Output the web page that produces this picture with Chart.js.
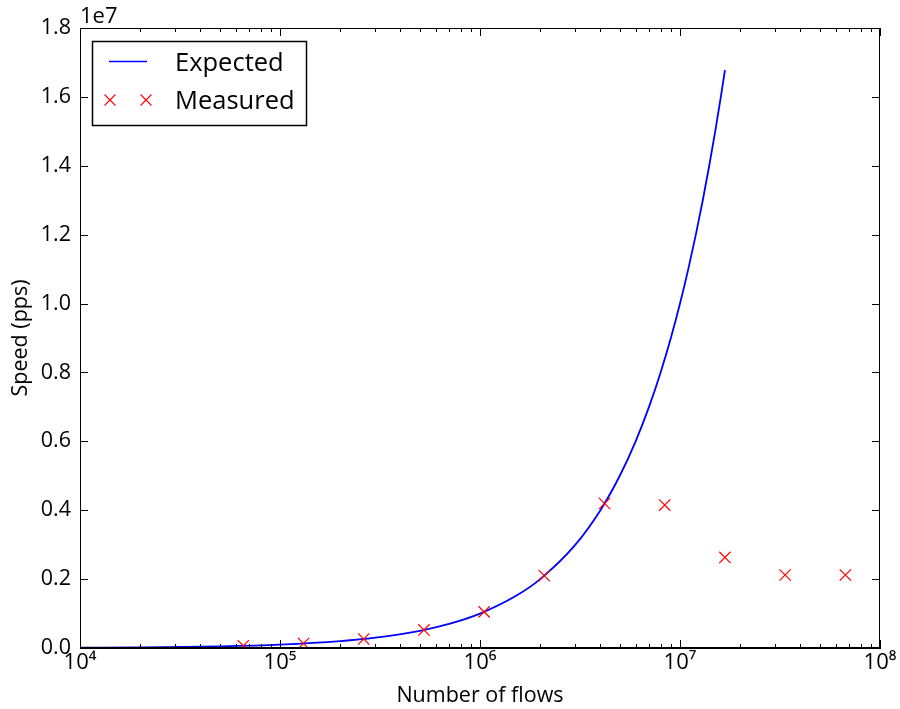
<!DOCTYPE html>
<html>
<head>
<meta charset="utf-8">
<script src="https://cdn.jsdelivr.net/npm/chart.js@4.4.1/dist/chart.umd.min.js"></script>
<style>
  html, body { margin: 0; padding: 0; background: #fff; }
  #wrap { width: 900px; height: 709px; }
</style>
</head>
<body>
<div id="wrap"><canvas id="chart" width="900" height="709"></canvas></div>
<script>
// Expected curve (speed equals number of flows)
var expectedFlows = [10000, 20000, 50000, 100000, 200000, 300000, 500000, 700000, 1000000,
  1500000, 2000000, 3000000, 4000000, 5000000, 6000000, 7000000, 8000000, 9000000,
  10000000, 11000000, 12000000, 13000000, 14000000, 15000000, 16000000, 16777216];
var expectedSpeed = [10000, 20000, 50000, 100000, 200000, 300000, 500000, 700000, 1000000,
  1500000, 2000000, 3000000, 4000000, 5000000, 6000000, 7000000, 8000000, 9000000,
  10000000, 11000000, 12000000, 13000000, 14000000, 15000000, 16000000, 16777216];

// Measured points
var measuredFlows = [65536, 131072, 262144, 524288, 1048576, 2097152, 4194304,
  8388608, 16777216, 33554432, 67108864];
var measuredSpeed = [65536, 131072, 262144, 524288, 1048576, 2097152, 4194304,
  4150000, 2630000, 2120000, 2120000];

// Tick values
var xMajorTicks = [1e4, 1e5, 1e6, 1e7, 1e8];
var yTicks = [0, 2e6, 4e6, 6e6, 8e6, 1e7, 1.2e7, 1.4e7, 1.6e7, 1.8e7];
var supDigits = { '4': '\u2074', '5': '\u2075', '6': '\u2076', '7': '\u2077', '8': '\u2078' };

var FONT = "'Open Sans', 'DejaVu Sans', sans-serif";

function toPoints(xs, ys) {
  return xs.map(function(x, i) { return { x: x, y: ys[i] }; });
}

// Frame, inward ticks, offset text and legend box (matplotlib classic look)
var frameTicks = {
  id: 'frameTicks',
  afterDraw: function(chart) {
    var ctx = chart.ctx;
    var a = chart.chartArea;
    var xs = chart.scales.x, ys = chart.scales.y;
    ctx.save();
    ctx.strokeStyle = '#000';
    ctx.lineWidth = 1;
    ctx.strokeRect(a.left + 0.5, a.top + 0.5, a.right - a.left - 1, a.bottom - a.top - 1);

    ctx.beginPath();
    // x major + minor ticks, bottom and top
    xMajorTicks.forEach(function(v, i) {
      var px = Math.round(xs.getPixelForValue(v)) + 0.5;
      ctx.moveTo(px, a.bottom); ctx.lineTo(px, a.bottom - 8);
      ctx.moveTo(px, a.top); ctx.lineTo(px, a.top + 8);
      if (i < xMajorTicks.length - 1) {
        for (var m = 2; m <= 9; m++) {
          var mx = Math.round(xs.getPixelForValue(v * m)) + 0.5;
          ctx.moveTo(mx, a.bottom); ctx.lineTo(mx, a.bottom - 4);
          ctx.moveTo(mx, a.top); ctx.lineTo(mx, a.top + 4);
        }
      }
    });
    // y ticks, left and right
    yTicks.forEach(function(v) {
      var py = Math.round(ys.getPixelForValue(v)) + 0.5;
      ctx.moveTo(a.left, py); ctx.lineTo(a.left + 8, py);
      ctx.moveTo(a.right, py); ctx.lineTo(a.right - 8, py);
    });
    ctx.stroke();

    // offset label
    ctx.fillStyle = '#000';
    ctx.font = '22px ' + FONT;
    ctx.textAlign = 'left';
    ctx.textBaseline = 'alphabetic';
    ctx.fillText('1e7', a.left, 23);

    // legend
    var lx = 92, ly = 41, lw = 214, lh = 84;
    ctx.fillStyle = '#fff';
    ctx.fillRect(lx, ly, lw, lh);
    ctx.strokeStyle = '#000';
    ctx.lineWidth = 1.5;
    ctx.strokeRect(lx + 0.5, ly + 0.5, lw, lh);

    ctx.strokeStyle = '#0000ff';
    ctx.lineWidth = 1.5;
    ctx.beginPath();
    ctx.moveTo(109, 61.5); ctx.lineTo(147, 61.5);
    ctx.stroke();

    ctx.strokeStyle = '#ff0000';
    ctx.lineWidth = 1.1;
    [110, 146].forEach(function(cx) {
      ctx.beginPath();
      ctx.moveTo(cx - 5.5, 94.5); ctx.lineTo(cx + 5.5, 105.5);
      ctx.moveTo(cx - 5.5, 105.5); ctx.lineTo(cx + 5.5, 94.5);
      ctx.stroke();
    });

    ctx.fillStyle = '#000';
    ctx.font = '25.5px ' + FONT;
    ctx.textBaseline = 'alphabetic';
    ctx.fillText(chart.data.datasets[0].label, 175, 71);
    ctx.fillText(chart.data.datasets[1].label, 175, 109);
    ctx.restore();
  }
};

new Chart(document.getElementById('chart'), {
  type: 'scatter',
  data: {
    datasets: [
      {
        label: 'Expected',
        data: toPoints(expectedFlows, expectedSpeed),
        showLine: true,
        borderColor: '#0000ff',
        borderWidth: 1.8,
        pointRadius: 0,
        cubicInterpolationMode: 'monotone',
        order: 2
      },
      {
        label: 'Measured',
        data: toPoints(measuredFlows, measuredSpeed),
        showLine: false,
        pointStyle: 'crossRot',
        pointRadius: 8,
        borderColor: '#ff0000',
        backgroundColor: '#ff0000',
        pointBorderWidth: 1.2,
        order: 1
      }
    ]
  },
  options: {
    responsive: false,
    animation: false,
    layout: { padding: { left: 0, right: 20, top: 28, bottom: 0 } },
    plugins: {
      legend: { display: false },
      tooltip: { enabled: false }
    },
    scales: {
      x: {
        type: 'logarithmic',
        min: 1e4,
        max: 1e8,
        afterBuildTicks: function(scale) {
          scale.ticks = xMajorTicks.map(function(v) { return { value: v }; });
        },
        afterFit: function(scale) { scale.height = 61; },
        grid: { display: false, drawTicks: false },
        border: { display: true, color: '#000' },
        ticks: {
          color: '#000',
          font: { family: FONT, size: 22 },
          padding: 2,
          maxRotation: 0,
          autoSkip: false,
          callback: function(v) {
            var e = String(Math.round(Math.log10(v)));
            return '10' + supDigits[e];
          }
        },
        title: {
          display: true,
          text: 'Number of flows',
          color: '#000',
          font: { family: FONT, size: 21.5 },
          padding: { top: 0, bottom: 0 }
        }
      },
      y: {
        min: 0,
        max: 1.8e7,
        afterBuildTicks: function(scale) {
          scale.ticks = yTicks.map(function(v) { return { value: v }; });
        },
        afterFit: function(scale) { scale.width = 80; },
        grid: { display: false, drawTicks: false },
        border: { display: true, color: '#000' },
        ticks: {
          color: '#000',
          font: { family: FONT, size: 21.5 },
          padding: 9,
          callback: function(v) { return (v / 1e7).toFixed(1); }
        },
        title: {
          display: true,
          text: 'Speed (pps)',
          color: '#000',
          font: { family: FONT, size: 21.5 },
          padding: { top: 8, bottom: 0 }
        }
      }
    }
  },
  plugins: [frameTicks]
});
</script>
</body>
</html>
